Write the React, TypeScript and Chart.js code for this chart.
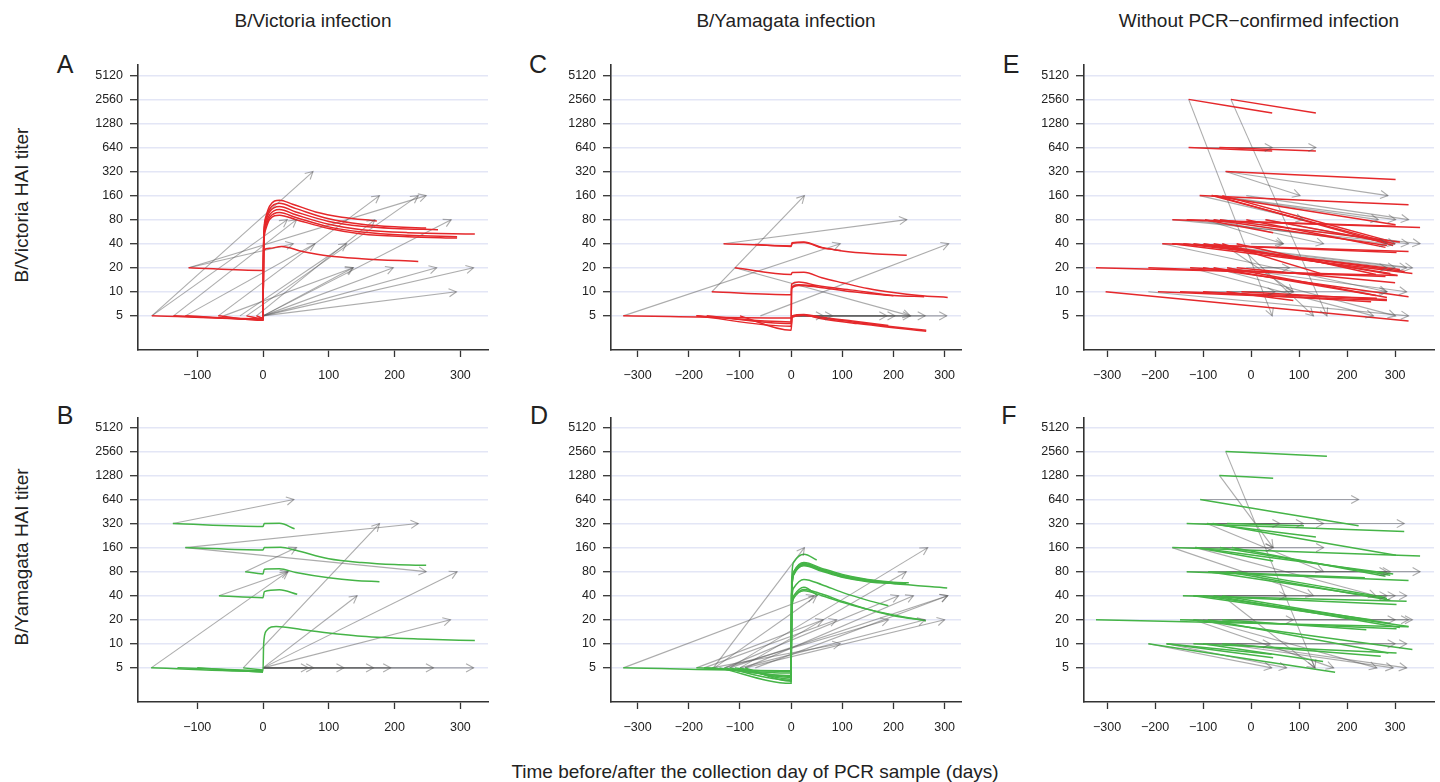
import React, { useEffect, useRef } from "react";
import { Chart, registerables } from "chart.js";
Chart.register(...registerables);

type Arrow = [number, number, number, number]; // startDay, startTiter, endDay, endTiter
type Curve = [number, number][]; // [day, titer]

const RED = "#e5282b";
const GREEN = "#45b447";
const GRAY = "rgba(90,90,90,0.5)";

const yTickValues = [5, 10, 20, 40, 80, 160, 320, 640, 1280, 2560, 5120];
const xTicksLeft = [-100, 0, 100, 200, 300];
const xTicksWide = [-300, -200, -100, 0, 100, 200, 300];

const columnTitles = ["B/Victoria infection", "B/Yamagata infection", "Without PCR\u2212confirmed infection"];
const rowTitles = ["B/Victoria HAI titer", "B/Yamagata HAI titer"];
const xTitle = "Time before/after the collection day of PCR sample (days)";

// ---------- Panel A: B/Victoria infection, B/Victoria titer ----------
const arrowsA: Arrow[] = [
  [-169, 5, 76, 320], [-169, 5, 37, 80], [-136, 5, 51, 80], [-118, 5, 79, 40],
  [-113, 20, 248, 160], [-113, 20, 46, 40], [-68, 5, 177, 160], [-35, 5, 127, 40],
  [-25, 5, 236, 160], [-10, 5, 170, 80], [0, 5, 286, 80], [0, 5, 137, 20],
  [0, 5, 198, 20], [0, 5, 264, 20], [0, 5, 320, 20], [0, 5, 294, 10], [-60, 5, 137, 20],
];
const curvesA: Curve[] = [
  [[-169, 5], [0, 4.6], [1, 45], [4, 85], [10, 118], [25, 140], [45, 125], [80, 100], [120, 86], [173, 77]],
  [[-136, 5], [0, 4.5], [1, 42], [4, 80], [10, 108], [25, 128], [50, 110], [100, 82], [150, 70], [200, 65], [248, 63]],
  [[-118, 5], [0, 4.5], [1, 40], [4, 75], [10, 100], [25, 117], [50, 100], [100, 76], [150, 66], [200, 62], [266, 60]],
  [[-68, 5], [0, 4.4], [1, 38], [4, 70], [10, 92], [25, 107], [50, 92], [100, 70], [150, 60], [220, 55], [322, 53]],
  [[-25, 5], [0, 4.6], [1, 36], [4, 65], [10, 85], [25, 98], [50, 85], [100, 65], [150, 56], [220, 51], [295, 49]],
  [[-10, 5], [0, 4.7], [1, 34], [4, 60], [10, 80], [25, 91], [50, 80], [100, 62], [150, 53], [220, 49], [295, 47]],
  [[-113, 20], [0, 18.5], [1, 33], [10, 35], [28, 37], [60, 32], [100, 28], [150, 26], [236, 24]],
];

// ---------- Panel B: B/Victoria infection, B/Yamagata titer ----------
const arrowsB: Arrow[] = [
  [-137, 320, 47, 640], [-118, 160, 236, 320], [-118, 160, 248, 80], [-67, 40, 38, 80],
  [-170, 5, 38, 80], [-27, 80, 51, 160], [-30, 5, 177, 320], [0, 5, 143, 40],
  [0, 5, 295, 80], [0, 5, 285, 20], [0, 5, 69, 5], [0, 5, 77, 5], [0, 5, 123, 5],
  [0, 5, 168, 5], [0, 5, 194, 5], [0, 5, 259, 5], [0, 5, 320, 5],
];
const curvesB: Curve[] = [
  [[-137, 320], [0, 295], [2, 320], [25, 322], [48, 275]],
  [[-118, 160], [0, 149], [2, 160], [27, 162], [50, 148], [100, 116], [150, 104], [200, 98], [248, 96]],
  [[-27, 80], [0, 75], [2, 86], [25, 87], [50, 78], [100, 67], [140, 62], [177, 60]],
  [[-67, 40], [0, 37.8], [2, 45], [25, 47.5], [52, 41.7]],
  [[-170, 5], [0, 4.5], [1, 10], [5, 14.5], [20, 16.5], [60, 15], [150, 12.4], [250, 11.4], [322, 11]],
  [[-130, 5], [0, 4.6]],
  [[-30, 5], [0, 4.7]],
  [[-100, 5], [0, 4.4]],
];

// ---------- Panel C: B/Yamagata infection, B/Victoria titer ----------
const arrowsC: Arrow[] = [
  [-155, 10, 26, 160], [-132, 40, 226, 80], [-328, 5, 96, 40], [-60, 5, 308, 40],
  [-110, 20, 233, 5], [0, 5, 63, 5], [0, 5, 81, 5], [0, 5, 187, 5], [0, 5, 203, 5],
  [0, 5, 262, 5], [0, 5, 304, 5], [0, 5, 233, 5],
];
const curvesC: Curve[] = [
  [[-132, 40], [0, 37.5], [2, 41], [25, 42], [60, 36], [100, 32.5], [160, 30], [226, 28.7]],
  [[-70, 39], [0, 37], [2, 40.5], [25, 41.5], [60, 35.5], [97, 33]],
  [[-110, 20], [0, 16.5], [2, 17.5], [25, 17.6], [60, 15], [100, 13], [150, 11], [200, 9.8], [250, 9], [306, 8.5]],
  [[-155, 10], [0, 9.2], [1, 12.5], [15, 13.3], [50, 12], [120, 10.5], [200, 9], [260, 8.7]],
  [[-185, 5], [0, 4.2], [1, 11.5], [15, 12.3], [52, 11.8]],
  [[-165, 5], [0, 4.0], [1, 11], [15, 12], [50, 11.5], [120, 10], [200, 8.9]],
  [[-328, 5], [0, 4.7], [2, 5], [25, 5.2], [60, 4.8], [120, 4.3], [190, 3.8]],
  [[-185, 5], [0, 3.7], [2, 4.9], [25, 5.1], [60, 4.7], [120, 4.2], [190, 3.7], [264, 3.3]],
  [[-100, 5], [0, 3.3], [2, 4.8], [25, 5.1], [60, 4.6], [130, 4.0], [264, 3.2]],
];

// ---------- Panel D: B/Yamagata infection, B/Yamagata titer ----------
const arrowsD: Arrow[] = [
  [-152, 5, 26, 160], [-328, 5, 45, 40], [-120, 5, 267, 160], [-100, 5, 225, 80],
  [-185, 5, 63, 20], [-170, 5, 89, 20], [-130, 5, 210, 40], [-90, 5, 239, 40],
  [-70, 5, 306, 40], [-120, 5, 306, 40], [-155, 5, 96, 10], [-100, 5, 262, 20],
  [-90, 5, 300, 20], [-130, 5, 190, 20], [-150, 5, 50, 40],
];
const curvesD: Curve[] = [
  [[-185, 5], [0, 4.5], [1, 60], [5, 105], [25, 132], [50, 112]],
  [[-170, 5], [0, 4.3], [1, 45], [5, 80], [25, 104], [60, 88], [100, 74], [150, 64], [200, 59], [230, 58]],
  [[-155, 5], [0, 4.0], [1, 42], [5, 78], [25, 101], [60, 86], [100, 72], [150, 63], [200, 58], [225, 57]],
  [[-120, 5], [0, 3.8], [1, 40], [5, 75], [25, 99], [60, 84], [100, 70], [150, 62], [200, 57], [305, 50]],
  [[-100, 5], [0, 3.6], [1, 40], [5, 74], [25, 97], [60, 83], [100, 69], [150, 61], [205, 57]],
  [[-328, 5], [0, 4.6], [1, 40], [5, 73], [25, 95], [60, 81], [100, 68], [150, 60], [215, 56]],
  [[-140, 5], [0, 3.2], [1, 30], [5, 50], [25, 64], [60, 55], [100, 44], [150, 35], [190, 30]],
  [[-90, 5], [0, 3.4], [1, 25], [5, 40], [25, 51], [52, 40]],
  [[-130, 5], [0, 3.5], [1, 24], [5, 38], [25, 48], [60, 42], [100, 34], [150, 27], [200, 23], [263, 19.5]],
  [[-110, 5], [0, 3.9], [1, 23], [5, 37], [25, 46], [60, 40], [100, 33], [150, 27], [200, 22.5], [263, 19.5]],
];

// ---------- Panel E: without PCR-confirmed infection, B/Victoria titer ----------
const arrowsE: Arrow[] = [
  [-130, 2560, 44, 5], [-42, 2560, 158, 5], [-130, 640, 44, 640], [-66, 640, 135, 640],
  [-53, 320, 102, 160], [-53, 320, 285, 160], [-107, 160, 109, 80], [-82, 160, 265, 80],
  [-75, 160, 301, 80], [-10, 160, 328, 80], [-96, 80, 67, 40], [-78, 80, 151, 40],
  [-134, 80, 283, 40], [30, 80, 300, 40], [-65, 80, 352, 40], [-164, 80, 328, 40],
  [-141, 40, 300, 20], [-120, 40, 324, 20], [-99, 40, 336, 20], [-60, 40, 88, 10],
  [-30, 40, 130, 5], [-185, 40, 283, 10], [-50, 20, 324, 10], [-127, 20, 255, 5],
  [-78, 20, 301, 5], [-214, 10, 328, 5], [-100, 10, 50, 10], [-51, 10, 88, 10],
  [-20, 10, 283, 10], [0, 40, 67, 40], [-10, 20, 80, 20], [20, 20, 283, 20],
];
const linesE: Arrow[] = [
  [-130, 2560, 44, 1725], [-42, 2560, 135, 1725], [-130, 640, 44, 580], [-66, 640, 135, 580],
  [-53, 320, 301, 255], [-107, 160, 328, 123], [-82, 160, 301, 69], [-82, 160, 290, 41],
  [-75, 160, 296, 38], [-60, 160, 283, 44], [-164, 80, 352, 64], [-134, 80, 301, 66],
  [-96, 80, 46, 55], [-78, 80, 283, 38], [-65, 80, 310, 42], [-10, 80, 280, 36],
  [30, 80, 300, 40], [-185, 40, 328, 32], [-164, 40, 303, 31], [-164, 40, 336, 17],
  [-141, 40, 310, 19], [-120, 40, 320, 18], [-99, 40, 290, 17], [-78, 40, 305, 16],
  [-60, 40, 144, 17], [-30, 40, 260, 16.5], [-323, 20, 305, 16], [-214, 20, 280, 15.5],
  [-127, 20, 144, 16.5], [-100, 20, 328, 8.7], [-78, 20, 260, 9], [-50, 20, 283, 8.5],
  [-30, 20, 300, 13], [-303, 10, 328, 4.3], [-194, 10, 283, 7.8], [-148, 10, 262, 8.3],
  [-51, 10, 88, 7.8], [-100, 10, 250, 7.5], [-20, 10, 283, 8],
];

// ---------- Panel F: without PCR-confirmed infection, B/Yamagata titer ----------
const arrowsF: Arrow[] = [
  [-53, 2560, 133, 5], [-66, 1280, 46, 160], [-106, 640, 224, 640], [-134, 320, 60, 320],
  [-92, 320, 109, 320], [-80, 320, 151, 320], [-50, 320, 319, 320], [-164, 160, 46, 160],
  [-116, 160, 151, 160], [-92, 320, 151, 80], [-134, 80, 352, 80], [-89, 80, 283, 80],
  [-51, 80, 290, 80], [-142, 40, 74, 40], [-120, 40, 283, 40], [-78, 40, 300, 40],
  [-60, 40, 324, 40], [-148, 20, 88, 20], [-120, 20, 300, 20], [-90, 20, 328, 20],
  [-60, 20, 336, 20], [-176, 10, 40, 10], [-120, 10, 300, 10], [-100, 10, 324, 10],
  [-214, 10, 43, 5], [-176, 10, 74, 5], [-60, 40, 133, 5], [-120, 20, 172, 5],
  [-100, 20, 262, 5], [-60, 10, 296, 5], [-30, 10, 324, 5], [-164, 160, 130, 40],
  [-116, 160, 260, 40],
];
const linesF: Arrow[] = [
  [-53, 2560, 158, 2227], [-66, 1280, 46, 1182], [-106, 640, 224, 300], [-134, 320, 319, 255],
  [-92, 320, 135, 217], [-80, 320, 302, 128], [-50, 320, 110, 300], [-164, 160, 352, 126],
  [-116, 160, 46, 109], [-116, 160, 296, 75], [-65, 160, 290, 72], [-40, 160, 280, 70],
  [-134, 80, 328, 62], [-89, 80, 237, 67], [-89, 80, 283, 37], [-51, 80, 290, 35],
  [-30, 80, 280, 38], [-142, 40, 324, 34], [-120, 40, 303, 31], [-120, 40, 328, 16.5],
  [-78, 40, 310, 16], [-60, 40, 290, 18], [-100, 40, 250, 20], [-323, 20, 328, 16.3],
  [-148, 20, 303, 15.4], [-120, 20, 336, 8.5], [-90, 20, 286, 7.7], [-60, 20, 240, 15],
  [-214, 10, 175, 4.4], [-176, 10, 43, 7.4], [-176, 10, 46, 6.7], [-120, 10, 303, 7.7],
  [-100, 10, 150, 6], [-60, 10, 270, 7],
];

const toCurves = (lines: Arrow[]): Curve[] => lines.map(([a, b, c, d]) => [[a, b], [c, d]]);

const FONT = "'Liberation Sans', Arial, Helvetica, sans-serif";
const Y_AXIS_W = 60;
const X_AXIS_H = 45;
const PAD_T = 10;
const PAD_R = 10;
const PLOT_W = 350;

interface PanelSpec {
  letter: string;
  letterX: number;
  letterY: number;
  left: number;
  top: number;
  height: number;
  xMin: number;
  xMax: number;
  yMin: number;
  yMax: number;
  xTicks: number[];
  arrows: Arrow[];
  curves: Curve[];
  color: string;
}

const panels: PanelSpec[] = [
  { letter: "A", letterX: 65, letterY: 64, left: 138, top: 60, height: 290, xMin: -190, xMax: 342, yMin: 1.87, yMax: 6995, xTicks: xTicksLeft, arrows: arrowsA, curves: curvesA, color: RED },
  { letter: "B", letterX: 65, letterY: 415, left: 138, top: 413, height: 289, xMin: -190, xMax: 342, yMin: 1.87, yMax: 6800, xTicks: xTicksLeft, arrows: arrowsB, curves: curvesB, color: GREEN },
  { letter: "C", letterX: 538, letterY: 64, left: 611, top: 60, height: 290, xMin: -352, xMax: 332, yMin: 1.87, yMax: 6995, xTicks: xTicksWide, arrows: arrowsC, curves: curvesC, color: RED },
  { letter: "D", letterX: 539, letterY: 415, left: 611, top: 413, height: 289, xMin: -352, xMax: 332, yMin: 1.87, yMax: 6800, xTicks: xTicksWide, arrows: arrowsD, curves: curvesD, color: GREEN },
  { letter: "E", letterX: 1011, letterY: 64, left: 1084, top: 60, height: 290, xMin: -348, xMax: 381, yMin: 1.87, yMax: 6995, xTicks: xTicksWide, arrows: arrowsE, curves: toCurves(linesE), color: RED },
  { letter: "F", letterX: 1009, letterY: 415, left: 1084, top: 413, height: 289, xMin: -348, xMax: 381, yMin: 1.87, yMax: 6800, xTicks: xTicksWide, arrows: arrowsF, curves: toCurves(linesF), color: GREEN },
];

const arrowHeadPlugin = {
  id: "arrowHeads",
  afterDatasetsDraw(chart: any) {
    const ctx = chart.ctx as CanvasRenderingContext2D;
    ctx.save();
    chart.data.datasets.forEach((ds: any, i: number) => {
      if (!ds.isArrow) return;
      const meta = chart.getDatasetMeta(i);
      const p0 = meta.data[0];
      const p1 = meta.data[1];
      if (!p0 || !p1) return;
      const ang = Math.atan2(p1.y - p0.y, p1.x - p0.x);
      const L = 8.5;
      const a = 0.5;
      ctx.strokeStyle = ds.borderColor;
      ctx.lineWidth = 1.1;
      ctx.beginPath();
      ctx.moveTo(p1.x - L * Math.cos(ang - a), p1.y - L * Math.sin(ang - a));
      ctx.lineTo(p1.x, p1.y);
      ctx.lineTo(p1.x - L * Math.cos(ang + a), p1.y - L * Math.sin(ang + a));
      ctx.stroke();
    });
    ctx.restore();
  },
};

const fmtX = (v: number) => (v < 0 ? "\u2212" + Math.abs(v) : String(v));

function Panel({ spec }: { spec: PanelSpec }) {
  const ref = useRef<HTMLCanvasElement | null>(null);
  const cw = Y_AXIS_W + PLOT_W + PAD_R;
  const ch = PAD_T + spec.height + X_AXIS_H;
  useEffect(() => {
    if (!ref.current) return;
    const curveSets = spec.curves.map((c) => ({
      data: c.map(([x, y]) => ({ x, y })),
      borderColor: spec.color,
      borderWidth: 1.5,
      pointRadius: 0,
      fill: false,
      cubicInterpolationMode: "monotone" as const,
    }));
    const arrowSets = spec.arrows.map(([x0, y0, x1, y1]) => ({
      data: [{ x: x0, y: y0 }, { x: x1, y: y1 }],
      borderColor: GRAY,
      borderWidth: 1.1,
      pointRadius: 0,
      fill: false,
      isArrow: true,
    }));
    const tickFont = { family: FONT, size: 12.5 };
    const chart = new Chart(ref.current, {
      type: "line",
      data: { datasets: [...curveSets, ...arrowSets] as any },
      options: {
        animation: false,
        responsive: false,
        maintainAspectRatio: false,
        events: [],
        layout: { padding: { top: PAD_T, right: PAD_R, left: 0, bottom: 0 } },
        plugins: { legend: { display: false }, tooltip: { enabled: false }, title: { display: false } },
        scales: {
          x: {
            type: "linear",
            min: spec.xMin,
            max: spec.xMax,
            afterBuildTicks: (s: any) => {
              s.ticks = spec.xTicks.map((v) => ({ value: v }));
            },
            afterFit: (s: any) => {
              s.height = X_AXIS_H;
            },
            grid: { drawOnChartArea: false, drawTicks: true, tickLength: 7, tickColor: "#333", tickWidth: 1.3 },
            border: { display: true, color: "#333", width: 1.6 },
            ticks: { padding: 11, color: "#222", font: tickFont, autoSkip: false, maxRotation: 0, callback: (v: any) => fmtX(Number(v)) },
          },
          y: {
            type: "logarithmic",
            min: spec.yMin,
            max: spec.yMax,
            afterBuildTicks: (s: any) => {
              s.ticks = yTickValues.map((v) => ({ value: v }));
            },
            afterFit: (s: any) => {
              s.width = Y_AXIS_W;
            },
            grid: { color: "#e3e6f6", lineWidth: 1.4, drawTicks: true, tickLength: 8, tickColor: "#333", tickWidth: 1.3 },
            border: { display: true, color: "#333", width: 1.6 },
            ticks: { padding: 7, color: "#222", font: tickFont, autoSkip: false, callback: (v: any) => String(v) },
          },
        },
      } as any,
      plugins: [arrowHeadPlugin],
    });
    return () => chart.destroy();
  }, [spec]);
  return (
    <canvas
      ref={ref}
      width={cw}
      height={ch}
      style={{ position: "absolute", left: spec.left - Y_AXIS_W, top: spec.top - PAD_T, width: cw, height: ch }}
    />
  );
}

const textBase: React.CSSProperties = {
  position: "absolute",
  fontFamily: FONT,
  color: "#222",
  whiteSpace: "nowrap",
  transform: "translate(-50%, -50%)",
  lineHeight: 1,
};

export default function App() {
  const colCenters = [313, 786, 1259];
  const rowCenters = [205, 557];
  return (
    <div style={{ position: "fixed", left: 0, top: 0, width: 1440, height: 782, background: "#fff", overflow: "hidden" }}>
      {panels.map((p) => (
        <Panel key={p.letter} spec={p} />
      ))}
      {panels.map((p) => (
        <div key={"l" + p.letter} style={{ ...textBase, left: p.letterX, top: p.letterY, fontSize: 25 }}>
          {p.letter}
        </div>
      ))}
      {columnTitles.map((t, i) => (
        <div key={t} style={{ ...textBase, left: colCenters[i], top: 20, fontSize: 19 }}>
          {t}
        </div>
      ))}
      {rowTitles.map((t, i) => (
        <div key={t} style={{ ...textBase, left: 21, top: rowCenters[i], fontSize: 19, transform: "translate(-50%, -50%) rotate(-90deg)" }}>
          {t}
        </div>
      ))}
      <div style={{ ...textBase, left: 755, top: 771, fontSize: 19 }}>{xTitle}</div>
    </div>
  );
}
